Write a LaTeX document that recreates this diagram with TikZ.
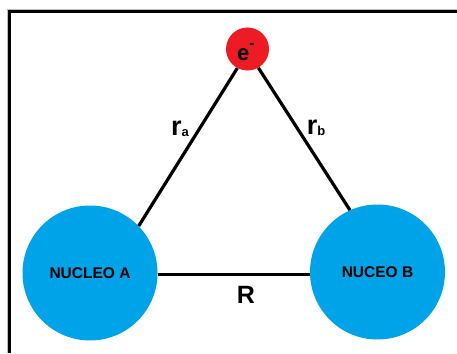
\documentclass[tikz,border=0pt]{standalone}
\usepackage{fontspec}
\setmainfont{Liberation Sans}
\definecolor{nucblue}{RGB}{0,162,232}
\definecolor{elred}{RGB}{237,28,36}
\begin{document}
\begin{tikzpicture}[x=1pt,y=-1pt,
  nucleus/.style={circle,fill=nucblue,minimum size=135pt,inner sep=0pt,font=\fontsize{15.5}{16}\selectfont\bfseries},
  electron/.style={circle,fill=elred,minimum size=43pt,inner sep=0pt},
  bond/.style={line width=3.2pt,black},
  lbl/.style={inner sep=0pt,font=\fontsize{25}{26}\selectfont\bfseries}]
\useasboundingbox (0,0) rectangle (457,353);
\fill[white] (0,0) rectangle (457,353);
% frame
\draw[gray!50,line width=1pt] (7.5,353) -- (7.5,9.5) -- (457,9.5);
\draw[black,line width=3pt] (9.5,353) -- (9.5,11.8) -- (457,11.8);
% nodes
\node[nucleus] (A) at (90,273) {NUCLEO A};
\node[nucleus] (B) at (377.5,272) {NUCEO B};
\node[electron] (e) at (247.5,49) {};
\node[inner sep=0pt,font=\fontsize{22}{23}\selectfont\bfseries] (etext) at (246,52) {e\raisebox{0.35ex}{\textsuperscript{-}}};
% connectors
\draw[bond] (A.44) -- (e.242);
\draw[bond] (e.300) -- (B.114);
\draw[bond] (A.east |- 0,274.3) -- (B.west |- 0,274.3);
% labels
\node[lbl,font=\fontsize{27}{28}\selectfont\bfseries] (ra) at (180,129) {r\raisebox{-0.1ex}{\fontsize{13}{14}\selectfont a}};
\node[lbl,font=\fontsize{27}{28}\selectfont\bfseries] (rb) at (316,128) {r\raisebox{-0.1ex}{\fontsize{13}{14}\selectfont b}};
\node[lbl] (R) at (246,295) {R};
\end{tikzpicture}
\end{document}
